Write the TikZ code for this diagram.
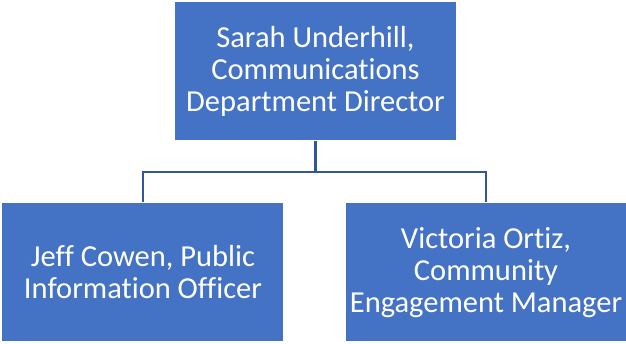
\documentclass[tikz,border=0pt]{standalone}
\usepackage{fontspec}
\setmainfont[Ligatures=NoCommon]{Carlito}
\usepackage{tikz}

\definecolor{boxblue}{RGB}{68,114,196}
\definecolor{lineblue}{RGB}{50,86,156}

\begin{document}
\begin{tikzpicture}[node distance=201pt,
	person/.style={rectangle, fill=boxblue, draw=white, line width=1pt,
		minimum width=282pt, minimum height=139pt, align=center,
		text=white, font=\fontsize{30.5}{32}\selectfont},
	link/.style={draw=lineblue, line width=2.5pt}]
\useasboundingbox (-315.5pt,71.5pt) rectangle (310.5pt,-272.5pt);

\node(sarah)	[person]	{Sarah Underhill,\\Communications\\Department Director};
\node(jeff)	[person, below of=sarah, xshift=-172.5pt]	{Jeff Cowen, Public\\Information Officer};
\node(victoria)	[person, below of=sarah, xshift=170.5pt]	{Victoria Ortiz,\\Community\\Engagement Manager};

\coordinate(bus)	at (0,-100.5pt);

\foreach \x in {jeff,victoria} {
	\draw [link] (sarah.south) -- (bus) -| (\x.north); }

\end{tikzpicture}
\end{document}
